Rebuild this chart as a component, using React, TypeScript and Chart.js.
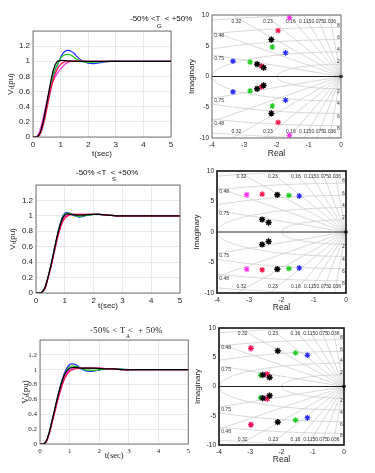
import React, { useEffect, useRef } from "react";
import { Chart, registerables } from "chart.js";
Chart.register(...registerables);

// ---------- step-response data (time in s, terminal voltage in pu) ----------
const timeSec = [0, 0.1, 0.2, 0.3, 0.4, 0.5, 0.6, 0.7, 0.8, 0.9, 1.0, 1.1, 1.2, 1.3, 1.4, 1.5, 1.6, 1.8, 2.0, 2.2, 2.5, 2.8, 3.2, 4, 5];

const blueG = [0, 0, 0.02, 0.1, 0.25, 0.42, 0.6, 0.76, 0.89, 0.96, 1.05, 1.11, 1.14, 1.145, 1.13, 1.1, 1.06, 1.0, 0.975, 0.97, 0.985, 1.0, 1.0, 1.0, 1.0];
const greenG = [0, 0, 0.02, 0.1, 0.25, 0.43, 0.61, 0.77, 0.89, 0.97, 1.04, 1.075, 1.09, 1.088, 1.075, 1.05, 1.025, 0.995, 0.985, 0.988, 0.997, 1, 1, 1, 1];
const blackG = [0, 0, 0.02, 0.1, 0.26, 0.45, 0.65, 0.83, 0.95, 1.0, 1.01, 1.01, 1.008, 1.005, 1.002, 1, 1, 1, 1, 1, 1, 1, 1, 1, 1];
const redG = [0, 0, 0.01, 0.07, 0.2, 0.37, 0.55, 0.71, 0.83, 0.91, 0.96, 0.985, 0.995, 1.0, 1.003, 1.004, 1.003, 1.0, 1, 1, 1, 1, 1, 1, 1];
const magentaG = [0, 0, 0.04, 0.15, 0.3, 0.46, 0.6, 0.71, 0.79, 0.85, 0.9, 0.94, 0.97, 0.99, 1.0, 1.0, 1, 1, 1, 1, 1, 1, 1, 1, 1];

const blueS = [0, 0, 0.01, 0.06, 0.18, 0.33, 0.5, 0.68, 0.84, 0.97, 1.035, 1.04, 1.03, 1.01, 0.995, 0.985, 0.99, 1.01, 1.02, 1.02, 1.01, 1.0, 1, 1, 1];
const greenS = [0, 0, 0.01, 0.06, 0.18, 0.33, 0.5, 0.68, 0.84, 0.96, 1.02, 1.035, 1.03, 1.015, 1.0, 0.993, 0.998, 1.01, 1.02, 1.02, 1.01, 1.0, 1, 1, 1];
const blackS = [0, 0, 0.01, 0.06, 0.18, 0.33, 0.5, 0.68, 0.83, 0.95, 1.01, 1.025, 1.02, 1.015, 1.01, 1.01, 1.01, 1.015, 1.02, 1.02, 1.01, 1.0, 1, 1, 1];
const redS = [0, 0, 0.01, 0.05, 0.17, 0.31, 0.47, 0.64, 0.79, 0.9, 0.97, 1.0, 1.015, 1.02, 1.02, 1.02, 1.02, 1.02, 1.02, 1.018, 1.01, 1.0, 1, 1, 1];
const magentaS = [0, 0, 0.01, 0.05, 0.17, 0.31, 0.48, 0.65, 0.8, 0.92, 0.99, 1.01, 1.02, 1.02, 1.02, 1.02, 1.02, 1.02, 1.02, 1.018, 1.01, 1.0, 1, 1, 1];

const blueA = [0, 0, 0.03, 0.14, 0.3, 0.47, 0.64, 0.8, 0.93, 1.02, 1.07, 1.08, 1.07, 1.04, 1.01, 0.99, 0.98, 0.98, 0.995, 1.01, 1.015, 1.005, 1, 1, 1];
const greenA = [0, 0, 0.03, 0.14, 0.3, 0.47, 0.64, 0.79, 0.91, 0.99, 1.04, 1.05, 1.045, 1.03, 1.015, 1.0, 0.995, 0.99, 1.0, 1.01, 1.015, 1.005, 1, 1, 1];
const blackA = [0, 0, 0.03, 0.14, 0.3, 0.47, 0.64, 0.79, 0.91, 0.98, 1.02, 1.03, 1.03, 1.025, 1.02, 1.02, 1.02, 1.02, 1.015, 1.01, 1.01, 1.0, 1, 1, 1];
const redA = [0, 0, 0.02, 0.12, 0.27, 0.43, 0.59, 0.73, 0.85, 0.93, 0.98, 1.0, 1.015, 1.02, 1.02, 1.02, 1.02, 1.02, 1.02, 1.015, 1.01, 1.0, 1, 1, 1];
const magentaA = [0, 0, 0.02, 0.13, 0.28, 0.45, 0.61, 0.75, 0.87, 0.95, 0.995, 1.01, 1.02, 1.02, 1.02, 1.02, 1.02, 1.02, 1.02, 1.015, 1.01, 1.0, 1, 1, 1];

// ---------- pole data (real, imaginary) ----------
const polesG_blue_re = [-1.72, -1.72, -3.35, -3.35];
const polesG_blue_im = [3.85, -3.85, 2.5, -2.5];
const polesG_green_re = [-2.13, -2.13, -2.82, -2.82];
const polesG_green_im = [4.8, -4.8, 2.35, -2.35];
const polesG_black_re = [-2.16, -2.16, -2.6, -2.6, -2.4, -2.4];
const polesG_black_im = [6.0, -6.0, 2.0, -2.0, 1.45, -1.45];
const polesG_red_re = [-1.95, -1.95, -2.47, -2.47];
const polesG_red_im = [7.45, -7.45, 1.7, -1.7];
const polesG_magenta_re = [-1.6, -1.6];
const polesG_magenta_im = [9.55, -9.55];

const polesS_blue_re = [-1.45, -1.45];
const polesS_blue_im = [5.9, -5.9];
const polesS_green_re = [-1.77, -1.77];
const polesS_green_im = [6.0, -6.0];
const polesS_black_re = [-2.13, -2.13, -2.6, -2.6, -2.4, -2.4];
const polesS_black_im = [6.1, -6.1, 2.05, -2.05, 1.55, -1.55];
const polesS_red_re = [-2.6, -2.6];
const polesS_red_im = [6.2, -6.2];
const polesS_magenta_re = [-3.08, -3.08];
const polesS_magenta_im = [6.1, -6.1];

const polesA_blue_re = [-1.17, -1.17];
const polesA_blue_im = [5.35, -5.35];
const polesA_green_re = [-1.55, -1.55, -2.66, -2.66];
const polesA_green_im = [5.75, -5.75, 1.9, -1.9];
const polesA_black_re = [-2.12, -2.12, -2.6, -2.6, -2.38, -2.38];
const polesA_black_im = [6.1, -6.1, 1.98, -1.98, 1.55, -1.55];
const polesA_red_re = [-2.98, -2.98, -2.45, -2.45];
const polesA_red_im = [6.55, -6.55, 2.1, -2.1];
const polesA_magenta_re = [-2.98, -2.98, -2.5, -2.5];
const polesA_magenta_im = [6.5, -6.5, 2.05, -2.05];

const originPole_re = [0];
const originPole_im = [0];

// ---------- grid annotations ----------
const dampingRatios = [0.036, 0.075, 0.115, 0.16, 0.23, 0.32, 0.48, 0.75];
const topDampingLabels = ["0.32", "0.23", "0.16", "0.115", "0.075", "0.036"];
const sideDampingLabels = ["0.48", "0.75"];
const naturalFreqs = [2, 4, 6, 8, 10];
const freqLabels = ["2", "4", "6", "8"];

const stepTicksX = [0, 1, 2, 3, 4, 5];

const COLORS = {
  blue: "#2a2aff",
  green: "#1fcc1f",
  red: "#ee1245",
  magenta: "#ff30f0",
  black: "#000000",
};

const SANS = '"Liberation Sans", Arial, sans-serif';
const SERIF = '"Liberation Serif", "Times New Roman", serif';

type Geo = { L: number; T: number; R: number; B: number; ls: number; ts: number; rs: number; bs: number };

const boxPlugin = {
  id: "box",
  afterDatasetsDraw(chart: any, _args: any, opts: any) {
    const { ctx, chartArea: a } = chart;
    ctx.save();
    ctx.strokeStyle = opts.color || "#444";
    ctx.lineWidth = opts.width || 1;
    ctx.strokeRect(a.left, a.top, a.right - a.left, a.bottom - a.top);
    ctx.restore();
  },
};

const sgridPlugin = {
  id: "sgrid",
  beforeDatasetsDraw(chart: any) {
    const { ctx, chartArea: a, scales } = chart;
    const x = scales.x, y = scales.y;
    const ox = x.getPixelForValue(0), oy = y.getPixelForValue(0);
    const kx = x.getPixelForValue(1) - ox;
    const ky = oy - y.getPixelForValue(1);
    ctx.save();
    ctx.beginPath();
    ctx.rect(a.left, a.top, a.right - a.left, a.bottom - a.top);
    ctx.clip();
    ctx.strokeStyle = "#c8c8c8";
    ctx.lineWidth = 0.7;
    for (const z of dampingRatios) {
      const s = Math.sqrt(1 - z * z);
      for (const sg of [1, -1]) {
        ctx.beginPath();
        ctx.moveTo(ox, oy);
        ctx.lineTo(x.getPixelForValue(-z * 30), y.getPixelForValue(sg * s * 30));
        ctx.stroke();
      }
    }
    for (const w of naturalFreqs) {
      ctx.beginPath();
      ctx.ellipse(ox, oy, w * kx, w * ky, 0, Math.PI / 2, Math.PI * 1.5);
      ctx.stroke();
    }
    ctx.strokeStyle = "#222";
    ctx.lineWidth = 1;
    ctx.beginPath();
    ctx.moveTo(a.left, oy);
    ctx.lineTo(a.right, oy);
    ctx.stroke();

    ctx.fillStyle = "#333";
    ctx.font = `5px ${SANS}`;
    ctx.textBaseline = "middle";
    ctx.textAlign = "center";
    topDampingLabels.forEach((lab) => {
      const z = parseFloat(lab);
      const s = Math.sqrt(1 - z * z);
      const xv = (-9.6 * z) / s;
      ctx.fillText(lab, x.getPixelForValue(xv), y.getPixelForValue(9.0));
      ctx.fillText(lab, x.getPixelForValue(xv), y.getPixelForValue(-9.0));
    });
    ctx.textAlign = "left";
    ctx.textBaseline = "top";
    sideDampingLabels.forEach((lab) => {
      const z = parseFloat(lab);
      const s = Math.sqrt(1 - z * z);
      const yl = (3.9 * s) / z;
      ctx.fillText(lab, x.getPixelForValue(-3.93), y.getPixelForValue(yl) + 0.5);
      ctx.fillText(lab, x.getPixelForValue(-3.93), y.getPixelForValue(-yl) + 0.5);
    });
    ctx.textAlign = "right";
    ctx.textBaseline = "middle";
    freqLabels.forEach((lab) => {
      const w = parseFloat(lab);
      ctx.fillText(lab, x.getPixelForValue(-0.04), y.getPixelForValue(w + 0.35));
      ctx.fillText(lab, x.getPixelForValue(-0.04), y.getPixelForValue(-w - 0.45));
    });
    ctx.restore();
  },
};

type Series = { values: number[]; color: string };

function stepConfig(g: Geo, series: Series[], serif: boolean, ylabelPad: number, xlabelPad: number) {
  const fam = serif ? SERIF : SANS;
  return {
    type: "line",
    data: {
      datasets: series.map((s) => ({
        data: timeSec.map((t, i) => ({ x: t, y: s.values[i] })),
        borderColor: s.color,
        backgroundColor: s.color,
        borderWidth: 1.25,
        pointRadius: 0,
        tension: 0.35,
        fill: false,
      })),
    },
    options: {
      responsive: false,
      animation: false,
      devicePixelRatio: 1,
      layout: { padding: { left: 0, top: g.ts, right: g.rs, bottom: 0 } },
      plugins: { legend: { display: false }, tooltip: { enabled: false }, box: { color: "#555", width: 0.8 } },
      scales: {
        x: {
          type: "linear",
          min: stepTicksX[0],
          max: stepTicksX[stepTicksX.length - 1],
          afterFit: (s: any) => { s.height = g.bs; },
          ticks: { stepSize: 1, padding: 3, color: "#222", font: { family: fam, size: serif ? 7 : 8 }, callback: (v: number) => String(v) },
          grid: { color: "#dedede", lineWidth: 0.7, drawTicks: false },
          border: { display: false },
          title: { display: true, text: "t(sec)", color: "#222", font: { family: fam, size: serif ? 8.5 : 8 }, padding: { top: 0, bottom: xlabelPad } },
        },
        y: {
          type: "linear",
          min: 0,
          max: 1.4,
          afterFit: (s: any) => { s.width = g.ls; },
          ticks: {
            stepSize: 0.2,
            padding: 3,
            color: "#222",
            font: { family: fam, size: serif ? 7 : 8 },
            callback: (v: number) => (v > 1.3 ? "" : String(Math.round(v * 10) / 10)),
          },
          grid: { color: "#dedede", lineWidth: 0.7, drawTicks: false },
          border: { display: false },
          title: { display: true, text: "V\u209C(pu)", color: "#222", font: { family: fam, size: serif ? 9 : 8 }, padding: { top: ylabelPad, bottom: 0 } },
        },
      },
    },
    plugins: [boxPlugin],
  };
}

type PoleSet = { re: number[]; im: number[]; color: string; dot?: boolean };

function poleConfig(g: Geo, sets: PoleSet[], boxColor: string, boxWidth: number, ylabelPad: number, xlabelPad: number) {
  return {
    type: "scatter",
    data: {
      datasets: sets.map((p) => ({
        data: p.re.map((r, i) => ({ x: r, y: p.im[i] })),
        pointStyle: p.dot ? "circle" : "star",
        pointRadius: p.dot ? 1.8 : p.color === COLORS.black ? 3.1 : 2.9,
        borderColor: p.color,
        backgroundColor: p.color,
        borderWidth: p.dot ? 0 : p.color === COLORS.black ? 1.4 : 1.1,
        clip: 6,
      })),
    },
    options: {
      responsive: false,
      animation: false,
      devicePixelRatio: 1,
      layout: { padding: { left: 0, top: g.ts, right: g.rs, bottom: 0 } },
      plugins: { legend: { display: false }, tooltip: { enabled: false }, box: { color: boxColor, width: boxWidth } },
      scales: {
        x: {
          type: "linear",
          min: -4,
          max: 0,
          afterFit: (s: any) => { s.height = g.bs; },
          ticks: { stepSize: 1, padding: 3, color: "#222", font: { family: SANS, size: 6.5 }, callback: (v: number) => String(v) },
          grid: { display: false, drawTicks: false },
          border: { display: false },
          title: { display: true, text: "Real", color: "#222", font: { family: SANS, size: 8.5 }, padding: { top: 0, bottom: xlabelPad } },
        },
        y: {
          type: "linear",
          min: -10,
          max: 10,
          afterFit: (s: any) => { s.width = g.ls; },
          ticks: { stepSize: 5, padding: 3, color: "#222", font: { family: SANS, size: 6.5 }, callback: (v: number) => String(v) },
          grid: { display: false, drawTicks: false },
          border: { display: false },
          title: { display: true, text: "Imaginary", color: "#222", font: { family: SANS, size: 8 }, padding: { top: ylabelPad, bottom: 0 } },
        },
      },
    },
    plugins: [sgridPlugin, boxPlugin],
  };
}

function ChartCanvas({ geo, build }: { geo: Geo; build: () => any }) {
  const ref = useRef<HTMLCanvasElement>(null);
  useEffect(() => {
    const chart = new Chart(ref.current as HTMLCanvasElement, build());
    return () => chart.destroy();
  }, []);
  const w = geo.R - geo.L + geo.ls + geo.rs;
  const h = geo.B - geo.T + geo.ts + geo.bs;
  return (
    <canvas
      ref={ref}
      width={w}
      height={h}
      style={{ position: "absolute", left: geo.L - geo.ls, top: geo.T - geo.ts, width: w, height: h }}
    />
  );
}

const geoA: Geo = { L: 33, T: 31, R: 171, B: 137, ls: 33, ts: 9, rs: 8, bs: 24 };
const geoB: Geo = { L: 212, T: 15, R: 341, B: 138, ls: 26, ts: 8, rs: 8, bs: 24 };
const geoC: Geo = { L: 36, T: 185, R: 180, B: 293, ls: 36, ts: 10, rs: 8, bs: 22 };
const geoD: Geo = { L: 217, T: 171, R: 346, B: 293, ls: 28, ts: 8, rs: 8, bs: 22 };
const geoE: Geo = { L: 40, T: 340, R: 189, B: 444, ls: 40, ts: 10, rs: 4, bs: 22 };
const geoF: Geo = { L: 219, T: 328, R: 344, B: 445, ls: 28, ts: 8, rs: 8, bs: 22 };

const stepOrder = (b: number[], g: number[], k: number[], r: number[], m: number[]): Series[] => [
  { values: k, color: COLORS.black },
  { values: r, color: COLORS.red },
  { values: m, color: COLORS.magenta },
  { values: g, color: COLORS.green },
  { values: b, color: COLORS.blue },
];

const poleOrder = (
  k: [number[], number[]], r: [number[], number[]], m: [number[], number[]], g: [number[], number[]], b: [number[], number[]]
): PoleSet[] => [
  { re: originPole_re, im: originPole_im, color: COLORS.black, dot: true },
  { re: k[0], im: k[1], color: COLORS.black },
  { re: r[0], im: r[1], color: COLORS.red },
  { re: m[0], im: m[1], color: COLORS.magenta },
  { re: g[0], im: g[1], color: COLORS.green },
  { re: b[0], im: b[1], color: COLORS.blue },
];

export default function App() {
  const titleStyle = (left: number, top: number, size: number, fam: string, extra: any = {}) => ({
    position: "absolute" as const,
    left,
    top,
    fontSize: size,
    lineHeight: `${size}px`,
    fontFamily: fam,
    whiteSpace: "pre" as const,
    color: "#111",
    ...extra,
  });
  return (
    <div style={{ position: "absolute", left: 0, top: 0, width: 375, height: 473, background: "#fff", overflow: "hidden" }}>
      <ChartCanvas geo={geoA} build={() => stepConfig(geoA, stepOrder(blueG, greenG, blackG, redG, magentaG), false, 6, 2)} />
      <ChartCanvas
        geo={geoB}
        build={() =>
          poleConfig(geoB, poleOrder(
            [polesG_black_re, polesG_black_im],
            [polesG_red_re, polesG_red_im],
            [polesG_magenta_re, polesG_magenta_im],
            [polesG_green_re, polesG_green_im],
            [polesG_blue_re, polesG_blue_im]
          ), "#666", 1, 1, 3)
        }
      />
      <ChartCanvas geo={geoC} build={() => stepConfig(geoC, stepOrder(blueS, greenS, blackS, redS, magentaS), false, 8, 4.5)} />
      <ChartCanvas
        geo={geoD}
        build={() =>
          poleConfig(geoD, poleOrder(
            [polesS_black_re, polesS_black_im],
            [polesS_red_re, polesS_red_im],
            [polesS_magenta_re, polesS_magenta_im],
            [polesS_green_re, polesS_green_im],
            [polesS_blue_re, polesS_blue_im]
          ), "#111", 1.6, 3, 2)
        }
      />
      <ChartCanvas geo={geoE} build={() => stepConfig(geoE, stepOrder(blueA, greenA, blackA, redA, magentaA), true, 20, 5)} />
      <ChartCanvas
        geo={geoF}
        build={() =>
          poleConfig(geoF, poleOrder(
            [polesA_black_re, polesA_black_im],
            [polesA_red_re, polesA_red_im],
            [polesA_magenta_re, polesA_magenta_im],
            [polesA_green_re, polesA_green_im],
            [polesA_blue_re, polesA_blue_im]
          ), "#111", 1.6, 1.5, 2)
        }
      />
      <div style={titleStyle(130, 15, 8, SANS)}>{"-50% <T  < +50%"}</div>
      <div style={titleStyle(157, 23, 6, SANS)}>G</div>
      <div style={titleStyle(76, 169, 8, SANS)}>{"-50% <T  < +50%"}</div>
      <div style={titleStyle(112, 176, 6, SANS)}>S</div>
      <div style={titleStyle(90, 326, 8.5, SERIF, { letterSpacing: "0.4px" })}>{"-50% < T <  + 50%"}</div>
      <div style={titleStyle(126, 334, 5.5, SERIF)}>A</div>
    </div>
  );
}
